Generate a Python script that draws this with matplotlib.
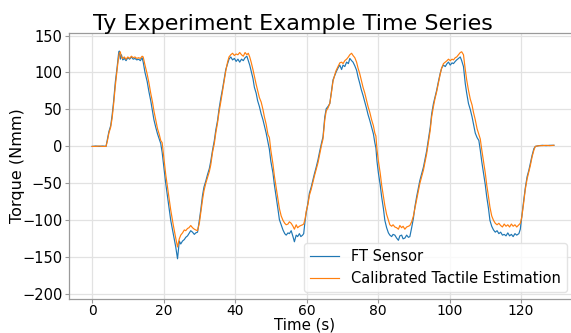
import matplotlib
matplotlib.use("Agg")
import matplotlib.pyplot as plt

# time (s) and torque (Nmm)
time_s = [
    0, 1, 2, 3, 3.9, 4.3, 4.7, 5.2, 5.6, 6.0, 6.5, 7.0, 7.4, 7.6, 7.9, 8.2, 8.6, 9.0, 9.5,
    10.0, 10.5, 11.0, 11.5, 12.0, 12.5, 13.0, 13.5, 14.0, 14.3, 14.8, 15.4, 15.9, 16.4,
    16.9, 17.3, 17.8, 18.3, 18.8, 19.2, 19.6, 20.0, 20.6, 21.3, 22.0, 22.7, 23.4, 23.9,
    24.4, 24.8, 25.3, 25.8, 26.2, 26.7, 27.1, 27.6, 28.1, 28.6, 29.0, 29.5, 30.0, 30.4,
    30.9, 31.3, 31.8, 32.3, 32.8, 33.2, 33.7, 34.2, 34.6, 35.1, 35.5, 36.0, 36.5, 37.0,
    37.4, 37.9, 38.3, 38.8, 39.3, 39.8, 40.3, 40.8, 41.3, 41.8, 42.3, 42.8, 43.3, 43.7,
    44.1, 44.5, 45.0, 45.4, 45.9, 46.3, 46.8, 47.3, 47.8, 48.2, 48.7, 49.2, 49.6, 50.0,
    50.6, 51.0, 51.5, 52.0, 52.4, 52.9, 53.4, 53.9, 54.3, 54.8, 55.2, 55.7, 56.2, 56.6,
    57.1, 57.5, 58.0, 58.4, 58.9, 59.2, 59.6, 59.9, 60.4, 60.8, 61.3, 61.8, 62.2, 62.7,
    63.2, 63.7, 64.2, 64.6, 65.1, 65.5, 66.0, 66.5, 67.0, 67.4, 67.9, 68.3, 68.8, 69.3,
    69.8, 70.2, 70.7, 71.2, 71.7, 72.1, 72.6, 73.0, 73.5, 74.0, 74.4, 74.9, 75.3, 75.8,
    76.3, 76.8, 77.2, 77.7, 78.2, 78.7, 79.1, 79.4, 79.7, 80.1, 80.6, 81.0, 81.5, 81.9,
    82.4, 82.9, 83.3, 83.8, 84.2, 84.7, 85.2, 85.7, 86.1, 86.6, 87.0, 87.5, 88.0, 88.5,
    88.9, 89.4, 89.9, 90.3, 90.8, 91.3, 91.7, 92.2, 92.7, 93.1, 93.6, 94.1, 94.6, 95.0,
    95.5, 95.9, 96.4, 96.9, 97.4, 97.8, 98.3, 98.8, 99.3, 99.7, 100.2, 100.7, 101.1,
    101.6, 102.0, 102.5, 103.0, 103.4, 103.9, 104.4, 104.8, 105.3, 105.8, 106.3, 106.7,
    107.2, 107.7, 108.2, 108.6, 109.0, 109.5, 110.0, 110.4, 110.9, 111.3, 111.8, 112.3,
    112.8, 113.3, 113.8, 114.3, 114.8, 115.3, 115.8, 116.3, 116.8, 117.3, 117.8, 118.3,
    118.8, 119.4, 119.8, 120.2, 120.7, 121.2, 121.7, 122.2, 122.6, 123.1, 123.6, 124.0,
    125, 126, 127, 128, 129.2,
]

ft_sensor = [
    0, 0.5, 0, 0.5, 0, 10, 20, 28, 42, 60, 87, 107, 125, 129, 118, 124, 117, 119, 116,
    120, 118, 121, 118, 119, 117, 118, 116, 120, 114, 100, 88, 74, 62,
    48, 36, 26, 17, 10, 4, -8, -25, -50, -75, -100, -118, -136, -152,
    -128, -132, -128, -126, -123, -121, -118, -114, -116, -119, -117, -116, -100, -86,
    -66, -55, -47, -38, -30, -20, -5, 8, 22, 35, 50, 65, 78, 92,
    104, 112, 118, 121, 117, 119, 115, 118, 114, 118, 116, 120, 122, 116,
    110, 102, 92, 80, 72, 62, 54, 44, 36, 28, 18, 6, -4, -20,
    -36, -52, -68, -85, -99, -106, -113, -118, -120, -117, -118, -114, -122, -129,
    -120, -122, -118, -122, -120, -118, -100, -90, -76, -63, -55, -45, -37, -28,
    -18, -6, 5, 13, 40, 51, 54, 58, 76, 90, 96, 101, 106, 110,
    104, 110, 108, 114, 112, 119, 116, 114, 109, 103, 94, 85, 77, 69,
    60, 51, 43, 35, 26, 17, 5, -2, -20, -36, -52, -68, -84, -100,
    -110, -117, -120, -122, -119, -120, -124, -127, -121, -120, -125, -124, -120, -123,
    -122, -110, -97, -82, -68, -56, -46, -37, -28, -18, -6, 10, 26, 44,
    58, 66, 76, 88, 99, 106, 110, 108, 112, 114, 110, 113, 112,
    115, 117, 119, 121, 116, 108, 85, 72, 58, 50, 40, 30,
    18, 12, 8, -5, -20, -36, -52, -68, -84, -100, -108, -113,
    -116, -114, -118, -116, -120, -119, -121, -117, -121, -119, -122, -118,
    -120, -118, -112, -95, -75, -56, -41, -32, -23, -12, -3, 0,
    1, 1.5, 1, 1.5, 1.5,
]

tactile_est = [
    0, 0, 0.5, 0, 0, 8, 18, 26, 38, 56, 82, 104, 120, 126, 128, 120, 119, 121, 118,
    121, 119, 122, 120, 121, 119, 120, 119, 122, 121, 110, 98, 86, 72,
    60, 48, 36, 24, 16, 8, 5, -12, -38, -62, -86, -106, -124, -136,
    -125, -120, -117, -113, -114, -111, -110, -107, -110, -112, -113, -114, -104, -90,
    -72, -60, -50, -42, -34, -25, -8, 4, 18, 32, 46, 60, 75, 90,
    102, 114, 121, 124, 126, 123, 125, 124, 127, 124, 122, 127, 124, 126,
    121, 114, 104, 95, 84, 76, 66, 60, 50, 40, 30, 16, 12, -5,
    -24, -40, -56, -72, -84, -94, -100, -104, -106, -105, -102, -104, -108, -112,
    -106, -110, -108, -107, -106, -105, -98, -88, -78, -66, -58, -48, -40, -31,
    -22, -10, 2, 10, 36, 48, 52, 58, 74, 88, 97, 103, 108, 113,
    114, 112, 116, 118, 121, 124, 126, 123, 120, 114, 106, 98, 90, 80,
    72, 62, 54, 46, 36, 28, 18, 14, -4, -20, -36, -52, -68, -80,
    -92, -100, -106, -108, -106, -109, -110, -112, -107, -110, -108, -112, -109, -108,
    -107, -102, -94, -84, -72, -60, -50, -41, -32, -22, -10, 6, 22, 40,
    54, 64, 74, 86, 98, 106, 112, 114, 116, 118, 116, 118, 117,
    120, 121, 124, 127, 128, 124, 104, 90, 76, 64, 56, 46,
    36, 24, 16, 10, -4, -20, -36, -52, -68, -82, -94, -100,
    -104, -106, -104, -107, -109, -105, -108, -106, -109, -105, -108, -106,
    -109, -106, -104, -96, -78, -58, -44, -34, -26, -14, -5, 0,
    1, 1, 1.5, 1, 1.5,
]

W, H = 571, 333
fig = plt.figure(figsize=(W / 100, H / 100), dpi=100)
ax = fig.add_axes([69 / W, 1 - 298.7 / H, 508 / W, 265.4 / H])

ax.plot(time_s, ft_sensor, color="#1f77b4", lw=0.85, label="FT Sensor")
ax.plot(time_s, tactile_est, color="#ff7f0e", lw=0.85, label="Calibrated Tactile Estimation")

ax.set_ylim(-206, 153)
ax.set_yticks(range(-200, 151, 50))
ax.set_xticks(range(0, 121, 20))
ax.grid(True, color="#e2e2e2", lw=0.9)
ax.set_axisbelow(True)
for side in ax.spines.values():
    side.set_color("#9a9a9a")
    side.set_linewidth(0.9)
ax.tick_params(axis="both", labelsize=10.5, length=3, pad=1.5, color="#9a9a9a", width=0.8)
ax.tick_params(axis="x", labelsize=10, pad=1)

ax.set_ylabel("Torque (Nmm)", fontsize=11.5)
ax.yaxis.set_label_coords(-0.087, 0.5)
ax.set_xlabel("Time (s)", fontsize=10.8, va="bottom")
ax.xaxis.set_label_coords((305 - 69) / 508, -(333 - 298.7) / 265.4)

fig.text(293 / W, 1 - 30.5 / H, "Ty Experiment Example Time Series",
         fontsize=16, ha="center", va="baseline")

leg = ax.legend(loc="lower right", bbox_to_anchor=(0.98, 0.025), borderaxespad=0,
                fontsize=10.5, frameon=True, fancybox=True)
leg.get_frame().set_edgecolor("#dddddd")

fig.savefig("out.png", dpi=100)
